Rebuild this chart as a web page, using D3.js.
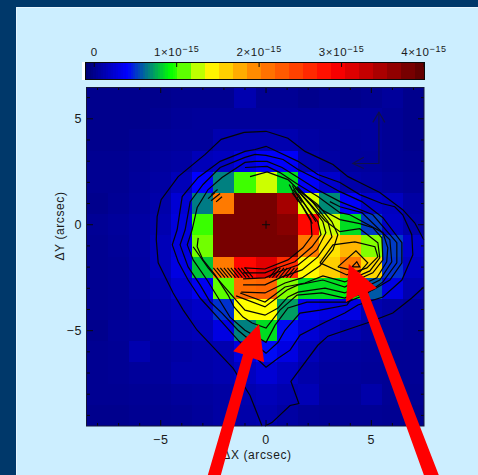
<!DOCTYPE html>
<html><head><meta charset="utf-8">
<script src="https://cdn.jsdelivr.net/npm/d3@7"></script>
<style>html,body{margin:0;padding:0;background:#00386a;overflow:hidden}
text{font-family:"Liberation Sans",sans-serif;fill:#1a1a1a;letter-spacing:.6px}</style>
</head><body><svg id="c" width="478" height="475"></svg>
<script>
// flux per 1x1 arcsec cell, units of 1e-15, rows from dY=+6 down to dY=-9
const flux = [
[.0,.0,.0,.0,.02,.02,.02,.12,.03,.03,.0,.02,.0,.02,.05,.0],
[.0,.0,.0,.02,.04,.05,.05,.05,.05,.05,.05,.05,.06,.06,.03,.0],
[.0,.0,.02,.04,.05,.05,.12,.12,.12,.12,.08,.06,.05,.06,.03,.0],
[.02,.02,.04,.06,.08,.15,.18,.28,.38,.38,.12,.08,.05,.05,.03,.02],
[.02,.02,.05,.08,.15,.4,.66,1.03,1.28,.85,.38,.22,.1,.08,.05,.03],
[.0,.03,.06,.1,.25,.65,2.05,3.8,3.8,3.5,1.3,.68,.38,.22,.18,.08],
[.03,.05,.08,.12,.28,1.02,3.8,3.8,3.8,3.7,2.85,1.28,.85,.52,.2,.1],
[.02,.04,.08,.15,.28,1.12,3.8,3.8,3.8,3.8,2.05,1.5,1.72,1.15,.52,.22],
[.02,.03,.07,.15,.3,.8,2.05,2.85,3.1,2.6,1.4,1.6,2.05,1.55,.5,.18],
[.02,.03,.07,.12,.22,.35,1.08,2.15,2.2,1.15,.85,.85,.9,.58,.3,.12],
[.02,.03,.06,.1,.15,.2,.5,1.37,1.37,.72,.35,.3,.3,.12,.08,.05],
[.0,.04,.05,.06,.12,.15,.3,.66,.85,.42,.25,.18,.12,.08,.05,.03],
[.02,.03,.12,.05,.08,.1,.12,.28,.42,.3,.15,.08,.06,.05,.03,.03],
[.02,.03,.05,.05,.1,.1,.12,.18,.25,.18,.1,.06,.05,.04,.03,.03],
[.02,.02,.03,.03,.05,.06,.08,.12,.15,.12,.14,.05,.04,.1,.03,.02],
[.0,.0,.02,.02,.03,.05,.08,.1,.12,.08,.04,.03,.03,.03,.02,.0]
];
const xCenters = d3.range(-8,8);
const yCenters = d3.range(6,-10,-1);
const colorStops = [-0.1,0.4,0.66,0.92,1.37,1.9,2.9,4];
const colorValues = ["#000070","#0000ff","#008080","#00ff00","#ffff00","#ff9000","#ff0000","#5a0000"];
const barTicks = [0,1,2,3,4];
const barExponent = "\u221215";
const xTicks = [-5,0,5];
const yTicks = [-5,0,5];
const minorX = d3.range(-8,8);
const minorY = d3.range(-9,7);
const xTitle = "\u0394X (arcsec)";
const yTitle = "\u0394Y (arcsec)";
const contours = [
[[7.49,-.71],[7.06,.09],[6.49,.71],[5.4,1.52],[4.45,1.99],[3.89,2.27],[3.18,2.84],[2.56,3.13],[1.85,3.46],[1.04,4.08],[0,4.41],[-1.04,4.36],[-2.13,4.03],[-2.89,3.32],[-4.17,2.27],[-4.98,1.18],[-5.17,.38],[-5.21,-.71],[-5.12,-1.8],[-4.41,-3.22],[-3.93,-4.03],[-3.27,-4.98],[-1.56,-6.78],[-.76,-8.06],[-.19,-9.5]],
[[-.05,-9.5],[.28,-9.34],[1.14,-8.53],[1.56,-8.44],[1.18,-7.39],[2.46,-5.69],[2.94,-5.26],[4.79,-4.64],[6.02,-4.17],[6.92,-3.46],[7.49,-2.94]],
[[-4.22,-.24],[-3.98,1.33],[-3.22,2.23],[-2.18,2.99],[-1,3.46],[-.52,3.55],[0,3.7],[.33,3.55],[1.52,2.99],[2.46,2.37],[3.51,1.99],[4.45,1.42],[5.5,1],[6.11,.85],[6.49,.47],[6.92,-.47],[6.97,-1.42],[6.45,-2.61],[5.55,-3.41],[4.36,-3.79],[3.74,-4.17],[2.8,-4.6],[1.61,-5.22],[1.14,-5.92],[.57,-6.3],[0,-6.73],[-.76,-6.02],[-1.33,-5.45],[-2.09,-4.6],[-3.13,-3.46],[-3.7,-2.61],[-4.17,-1.75],[-4.45,-.95],[-4.22,-.24]],
[[-3.84,-.24],[-3.6,1.09],[-2.99,1.9],[-2.18,2.7],[-1,3.18],[-.52,3.32],[0,3.27],[.81,3.08],[1.52,2.61],[2.46,2.13],[3.51,1.56],[4.55,1.09],[5.55,.33],[6.45,-.85],[6.45,-1.8],[5.88,-2.61],[5.07,-3.08],[4.12,-3.41],[3.84,-3.79],[2.56,-4.03],[1.61,-4.17],[.9,-4.98],[.57,-5.55],[0,-6.07],[-.76,-5.45],[-1.33,-4.98],[-2.09,-4.17],[-2.65,-3.65],[-3.13,-2.84],[-3.7,-1.99],[-4.08,-.95],[-3.84,-.24]],
[[-3.51,-.24],[-3.27,.81],[-2.75,1.66],[-2.09,2.23],[-1,2.94],[-.52,2.99],[.05,2.99],[.76,2.7],[1.52,2.23],[2.42,1.66],[3.51,1.09],[5.07,.47],[6.21,-.85],[6.21,-1.8],[5.55,-2.7],[4.69,-3.32],[3.84,-3.65],[1.94,-3.65],[1.04,-3.93],[.43,-4.74],[0,-5.55],[-1,-4.98],[-1.71,-4.36],[-2.27,-3.46],[-2.8,-2.61],[-3.46,-1.66],[-3.74,-.95],[-3.51,-.24]],
[[-3.22,-.62],[-3.27,-1.04],[-2.99,-1.66],[-2.42,-2.37],[-1.8,-3.32],[-1.52,-3.88],[-1.09,-4.36],[-.66,-4.64],[0,-4.88],[.66,-4.03],[1.47,-3.32],[2.65,-3.22],[3.74,-3.46],[4.45,-3.08],[5.4,-2.61],[5.97,-1.75],[5.88,-.71],[4.55,.57],[3.51,.85],[3.03,1.09]],
[[-3.46,-1.04],[-2.75,-2.04],[-1.56,-3.41],[-1,-4.03],[-.05,-4.27],[.57,-3.93],[1.04,-3.41],[1.52,-3.18],[2.8,-2.99],[3.74,-3.22],[4.31,-2.94],[5.26,-2.51],[5.73,-1.75],[5.78,-1.09],[5.55,-.38],[3.98,.47],[3.51,.57],[2.46,1.33],[1.52,1.9],[.66,2.46],[.05,2.75],[-1,2.7]],
[[-1.42,-3.36],[-.05,-3.88],[1,-3.08],[1.52,-2.84],[2.7,-2.61],[3.74,-2.94],[4.31,-2.61],[5.07,-2.27],[5.55,-1.66],[5.5,-.62],[5.07,-.14],[4.45,.05],[3.51,.24],[2.65,.71],[1.47,1.71]],
[[-1.23,-3.22],[-.05,-3.65],[.9,-2.94],[1.85,-2.75],[2.7,-2.42],[3.74,-2.7],[4.93,-2.18],[5.4,-1.56],[5.31,-.85],[4.45,-.19],[3.51,-.33],[2.8,.19],[1.61,1.52]],
[[-1.04,-2.04],[-.05,-2.09],[1.04,-1.66],[1.75,-1.09],[2.18,-.52],[2.13,.24],[1.75,.85],[1.23,1.52]],
[[-1.09,-2.27],[-.05,-2.27],[.52,-2.04],[1.37,-1.75],[2.18,-1.04],[2.61,-.47],[2.46,.14],[1.85,.95],[1.28,1.66]],
[[-1.09,-2.56],[-.05,-2.51],[.57,-2.23],[1.52,-1.9],[2.42,-1.18],[2.84,-.38],[2.7,.14],[2.09,.95],[1.37,1.75]],
[[-1.09,-2.84],[-.05,-2.84],[.76,-2.46],[1.71,-2.13],[2.46,-1.52],[3.13,-.57],[2.94,.14],[2.23,1.04],[1.47,1.8]],
[[-1.18,-3.18],[-.05,-3.22],[.9,-2.75],[1.71,-2.51],[2.56,-1.94],[3.18,-1.18],[3.41,-.47],[3.13,.14],[2.46,.95],[1.52,1.66],[1.04,2.13],[.05,2.49],[-.76,2.27]],
[[2.56,-1.8],[3.18,-.95],[4.22,-.81],[5.17,-1.04],[5.31,-1.52],[4.79,-2.04],[3.84,-2.37],[2.56,-1.8]],
[[3.41,-1.99],[4.27,-1.23],[4.83,-1.8],[4.45,-2.23],[3.41,-1.99]],
[[4.08,-1.99],[4.31,-1.75],[4.45,-1.99],[4.08,-1.99]],
// closely spaced strokes at the edge of the core
[[-2.75,1.23],[-2.42,1.52]],[[-2.61,1.13],[-2.18,1.47]],[[-2.37,1.08],[-2.09,1.32]],[[-2.6,1.42],[-2.3,1.66]],
[[1.52,1.47],[2.37,.14]],[[1.47,1.3],[2.2,.05]],[[1.1,1.9],[1.52,1.1]],[[1.25,1.85],[1.7,1.05]]
];
const hatchWest = [-2.5,-2.33,-2.17,-2,-1.83,-1.67,-1.5,-1.33,-1.17,-1];
const hatchEast = [.15,.3,.47,.63,.8,.97,1.13];
const noteArrows = [
[[-2.8,-11.94],[-1.09,-6.11],[-1.56,-5.97],[-.33,-4.69],[-.09,-6.49],[-.62,-6.3],[-2.18,-11.94]],
[[3.93,-1.85],[5.26,-2.99],[4.83,-3.18],[8.25,-11.94],[7.54,-11.94],[4.41,-3.32],[3.79,-3.65]]
];
const compass = [
[[5.36,5.31],[5.36,2.89],[4.12,2.89]],
[[5.07,4.83],[5.36,5.31],[5.64,4.83]],
[[4.64,3.18],[4.12,2.89],[4.64,2.65]]
];

const svg = d3.select("#c");
const x = d3.scaleLinear().domain([-8.5,7.5]).range([87,424]);
const y = d3.scaleLinear().domain([-9.5,6.5]).range([426,87]);
const cb = d3.scaleLinear().domain([-0.1,4]).range([86,424]);
const color = d3.scaleLinear().domain(colorStops).range(colorValues).clamp(true);

svg.append("rect").attr("x",16).attr("y",7).attr("width",462).attr("height",468).attr("fill","#cceeff");
svg.append("path").attr("d","M16.5,475V7.5H478").attr("fill","none").attr("stroke","#e8f6ff").attr("stroke-width",1);

// colour bar: fine steps through blue and green, coarse bands above
const bandEdges = d3.range(-0.1,1,0.03).concat(d3.range(1,4,0.17)).concat([4]);
const bands = d3.pairs(bandEdges);
svg.append("rect").attr("x",82).attr("y",62).attr("width",4).attr("height",18).attr("fill","#fff");
svg.append("g").attr("shape-rendering","crispEdges").selectAll("rect").data(bands).join("rect")
 .attr("x",d=>cb(d[0])).attr("y",62).attr("width",d=>cb(d[1])-cb(d[0])+.5).attr("height",18)
 .attr("fill",d=>color((d[0]+d[1])/2));
svg.append("rect").attr("x",85.5).attr("y",62.5).attr("width",339).attr("height",17).attr("fill","none").attr("stroke","#0a0a0a");
svg.append("g").selectAll("line").data(barTicks).join("line")
 .attr("x1",d=>cb(d)).attr("x2",d=>cb(d)).attr("y1",62).attr("y2",67).attr("stroke","#0a0a0a");
const bl = svg.append("g").selectAll("text").data(barTicks).join("text")
 .attr("x",d=>cb(d)).attr("y",56).attr("text-anchor","middle").attr("font-size",11.5);
bl.each(function(d){
  const t=d3.select(this);
  if(d===0){t.text("0");return;}
  t.append("tspan").text(d+"\u00d710");
  t.append("tspan").attr("dy",-4).attr("font-size",9).text(barExponent);
});

// image
const rows = svg.append("g").attr("shape-rendering","crispEdges");
flux.forEach((row,i)=>{
  rows.append("g").selectAll("rect").data(row).join("rect")
   .attr("x",(d,j)=>Math.round(x(xCenters[j]-.5)))
   .attr("y",Math.round(y(yCenters[i]+.5)))
   .attr("width",(d,j)=>Math.round(x(xCenters[j]+.5))-Math.round(x(xCenters[j]-.5)))
   .attr("height",Math.round(y(yCenters[i]-.5))-Math.round(y(yCenters[i]+.5)))
   .attr("fill",d=>color(d));
});

// contours
const line = d3.line().x(d=>x(d[0])).y(d=>y(d[1]));
svg.append("g").selectAll("path").data(contours).join("path")
 .attr("d",line).attr("fill","none").attr("stroke","#050505").attr("stroke-width",1.2);
svg.append("g").selectAll("path").data(hatchWest).join("path")
 .attr("d",d=>line([[d,-2.04],[d+.38,-2.5]])).attr("fill","none").attr("stroke","#050505").attr("stroke-width",1.1);
svg.append("g").selectAll("path").data(hatchEast).join("path")
 .attr("d",d=>line([[d,-2.5],[d+.38,-2.04]])).attr("fill","none").attr("stroke","#050505").attr("stroke-width",1.1);
svg.append("g").selectAll("path").data(compass).join("path")
 .attr("d",line).attr("fill","none").attr("stroke","#10104a").attr("stroke-width",1.2);
// centre mark
const s1 = 0.19;
svg.append("path").attr("d",line([[-s1,0],[s1,0]])+line([[0,-s1],[0,s1]])).attr("stroke","#0a0a0a").attr("fill","none");

// axes
const ax = svg.append("g").attr("stroke","#0a0a0a");
const tickLine=(g,xa,ya,xb,yb)=>g.append("line").attr("x1",xa).attr("y1",ya).attr("x2",xb).attr("y2",yb);
minorX.forEach(v=>{const L=xTicks.includes(v)?6:3;
  tickLine(ax,x(v),426,x(v),426-L);tickLine(ax,x(v),87,x(v),87+L);});
minorY.forEach(v=>{const L=yTicks.includes(v)?6:3;
  tickLine(ax,87,y(v),87+L,y(v));tickLine(ax,424,y(v),424-L,y(v));});
svg.append("rect").attr("x",86.5).attr("y",87.5).attr("width",337.5).attr("height",338.5).attr("fill","none").attr("stroke","#14143c");

const fmt = v=>v<0?"\u2212"+(-v):""+v;
svg.append("g").selectAll("text").data(xTicks).join("text")
 .attr("x",d=>x(d)).attr("y",444).attr("text-anchor","middle").attr("font-size",12.5).text(fmt);
svg.append("g").selectAll("text").data(yTicks).join("text")
 .attr("x",82).attr("y",d=>y(d)+4.5).attr("text-anchor","end").attr("font-size",12.5).text(fmt);
svg.append("text").attr("x",257).attr("y",459).attr("text-anchor","middle").attr("font-size",12).text(xTitle);
svg.append("text").attr("transform","translate(64,226) rotate(-90)").attr("text-anchor","middle").attr("font-size",12).text(yTitle);

// red pointers
svg.append("g").selectAll("path").data(noteArrows).join("path")
 .attr("d",d=>line(d)+"Z").attr("fill","#ff0000");
</script></body></html>
